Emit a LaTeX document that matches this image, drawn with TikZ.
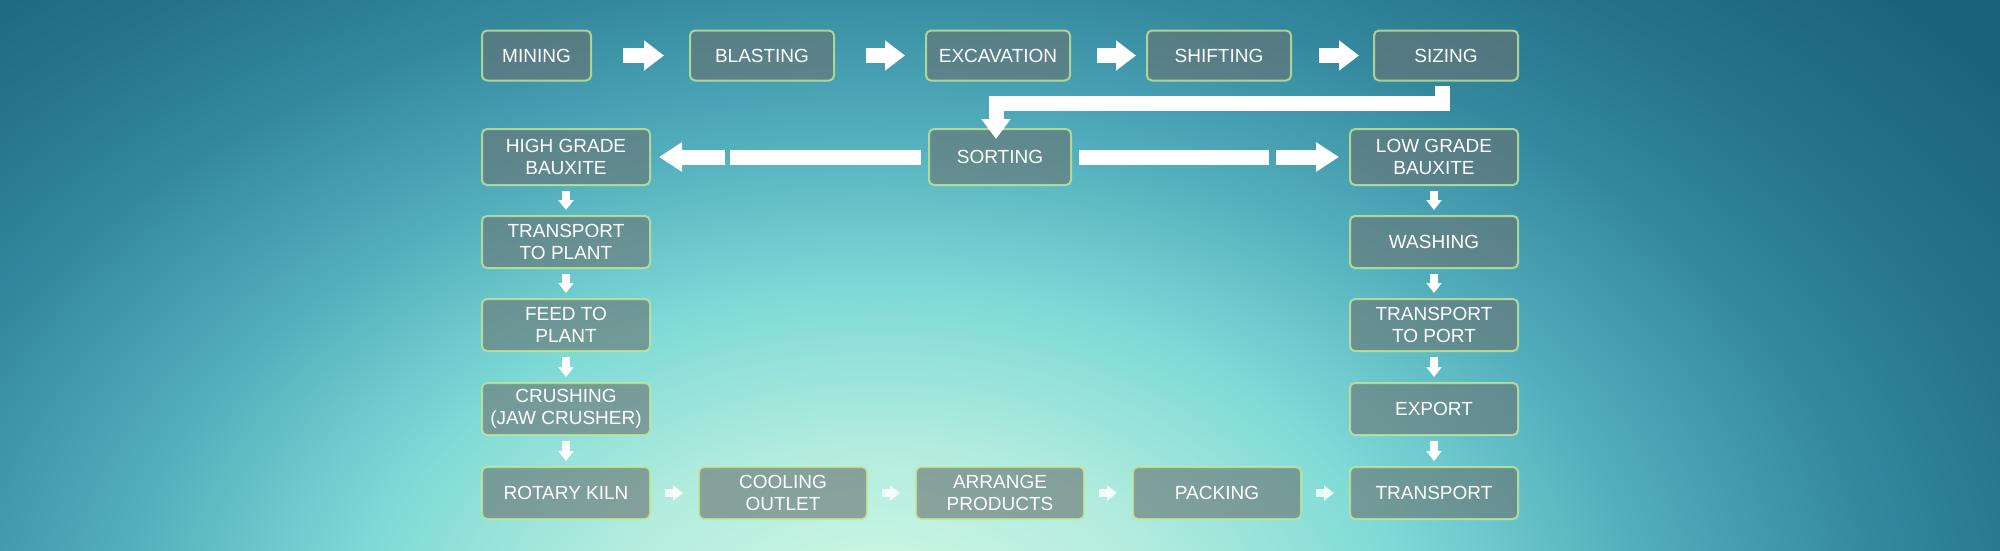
\documentclass[tikz,border=0pt]{standalone}
\usepackage{fontspec}
\setmainfont{Liberation Sans}
\usepackage{tikz}
\usetikzlibrary{arrows.meta,calc}

\definecolor{glowA}{RGB}{216,250,230}
\definecolor{glowB}{RGB}{178,236,222}
\definecolor{glowC}{RGB}{126,218,214}
\definecolor{glowD}{RGB}{82,174,188}
\definecolor{glowE}{RGB}{52,136,158}
\definecolor{glowF}{RGB}{38,116,140}
\definecolor{glowG}{RGB}{26,98,124}
\definecolor{boxfill}{RGB}{105,115,115}
\definecolor{boxline}{RGB}{196,232,150}

\pgfdeclareradialshading{bgglow}{\pgfpoint{0bp}{0bp}}{color(0bp)=(glowA); color(5bp)=(glowB); color(9bp)=(glowC); color(13bp)=(glowD); color(17bp)=(glowE); color(20bp)=(glowF); color(24bp)=(glowG); color(50bp)=(glowG)}

\begin{document}
\begin{tikzpicture}[x=1pt,y=1pt,yscale=-1,xscale=1,
    box/.style={draw=boxline, draw opacity=0.8, line width=2, fill=boxfill, fill opacity=0.62, text opacity=1, text=white, rounded corners=5, align=center, inner sep=0, minimum width=168, minimum height=52, font=\fontsize{19}{22}\selectfont},
    bigarrow/.style={white, line width=15, -{Triangle[length=20pt,width=29pt]}},
    bigbar/.style={white, line width=15},
    smallarrow/.style={white, line width=8, -{Triangle[length=10pt,width=15pt]}},
    flatarrow/.style={smallarrow, draw opacity=0.8, fill opacity=0.8}]
    \useasboundingbox (0,0) rectangle (2000,550);

    %Background glow
    \begin{scope}
    \clip (0,0) rectangle (2000,550);
    \fill[glowG] (0,0) rectangle (2000,550);
    \shade[shading=bgglow] (880,640) ellipse [x radius=1475, y radius=975];
    \end{scope}

    %Top row
    \node[box, minimum width=109, minimum height=50] (mining) at (536.5,55.5) {MINING};
    \node[box, minimum width=144, minimum height=50] (blasting) at (762,55.5) {BLASTING};
    \node[box, minimum width=144, minimum height=50] (excavation) at (998,55.5) {EXCAVATION};
    \node[box, minimum width=144, minimum height=50] (shifting) at (1219,55.5) {SHIFTING};
    \node[box, minimum width=144, minimum height=50] (sizing) at (1446,55.5) {SIZING};

    %Second row
    \node[box, minimum height=56] (highgrade) at (566,157) {HIGH GRADE\\BAUXITE};
    \node[box, minimum width=142, minimum height=56] (sorting) at (1000,157) {SORTING};
    \node[box, minimum height=56] (lowgrade) at (1434,157) {LOW GRADE\\BAUXITE};

    %Left column
    \node[box] (toplant) at (566,242) {TRANSPORT\\TO PLANT};
    \node[box] (feed) at (566,325) {FEED TO\\PLANT};
    \node[box] (crushing) at (566,409) {CRUSHING\\(JAW CRUSHER)};
    \node[box] (kiln) at (566,493) {ROTARY KILN};

    %Right column
    \node[box] (washing) at (1434,242) {WASHING};
    \node[box] (toport) at (1434,325) {TRANSPORT\\TO PORT};
    \node[box] (export) at (1434,409) {EXPORT};
    \node[box] (transport) at (1434,493) {TRANSPORT};

    %Bottom row
    \node[box] (cooling) at (783,493) {COOLING\\OUTLET};
    \node[box] (arrange) at (1000,493) {ARRANGE\\PRODUCTS};
    \node[box] (packing) at (1217,493) {PACKING};

    %Top arrows
    \draw[bigarrow] ($(mining.east)+(31,0)$) -- ($(blasting.west)+(-25,0)$);
    \draw[bigarrow] ($(blasting.east)+(31,0)$) -- ($(excavation.west)+(-20,0)$);
    \draw[bigarrow] ($(excavation.east)+(26,0)$) -- ($(shifting.west)+(-10,0)$);
    \draw[bigarrow] ($(shifting.east)+(27,0)$) -- ($(sizing.west)+(-14,0)$);

    %Elbow from sizing down to sorting
    \draw[bigarrow, -{Triangle[length=20pt,width=28pt]}, line join=miter] ($(sizing.south)+(-4,4)$) -- ++(0,17.5) -| ($(sorting.north)+(-4,11)$);

    %Sorting to both grades
    \draw[bigbar] ($(sorting.west)+(-7,0)$) -- ($(sorting.west)+(-198,0)$);
    \draw[bigarrow, -{Triangle[length=23pt,width=28pt]}] ($(highgrade.east)+(74,0)$) -- ($(highgrade.east)+(8,0)$);
    \draw[bigbar] ($(sorting.east)+(7,0)$) -- ($(sorting.east)+(197,0)$);
    \draw[bigarrow, -{Triangle[length=23pt,width=28pt]}] ($(lowgrade.west)+(-73,0)$) -- ($(lowgrade.west)+(-10,0)$);

    %Left column arrows
    \draw[smallarrow] ($(highgrade.south)+(0,5)$) -- ($(toplant.north)+(0,-5)$);
    \draw[smallarrow] ($(toplant.south)+(0,5)$) -- ($(feed.north)+(0,-5)$);
    \draw[smallarrow] ($(feed.south)+(0,5)$) -- ($(crushing.north)+(0,-5)$);
    \draw[smallarrow] ($(crushing.south)+(0,5)$) -- ($(kiln.north)+(0,-5)$);

    %Right column arrows
    \draw[smallarrow] ($(lowgrade.south)+(0,5)$) -- ($(washing.north)+(0,-5)$);
    \draw[smallarrow] ($(washing.south)+(0,5)$) -- ($(toport.north)+(0,-5)$);
    \draw[smallarrow] ($(toport.south)+(0,5)$) -- ($(export.north)+(0,-5)$);
    \draw[smallarrow] ($(export.south)+(0,5)$) -- ($(transport.north)+(0,-5)$);

    %Bottom row arrows
    \draw[flatarrow] ($(kiln.east)+(14,0)$) -- ($(cooling.west)+(-15,0)$);
    \draw[flatarrow] ($(cooling.east)+(14,0)$) -- ($(arrange.west)+(-15,0)$);
    \draw[flatarrow] ($(arrange.east)+(14,0)$) -- ($(packing.west)+(-15,0)$);
    \draw[flatarrow] ($(packing.east)+(14,0)$) -- ($(transport.west)+(-15,0)$);

\end{tikzpicture}
\end{document}
